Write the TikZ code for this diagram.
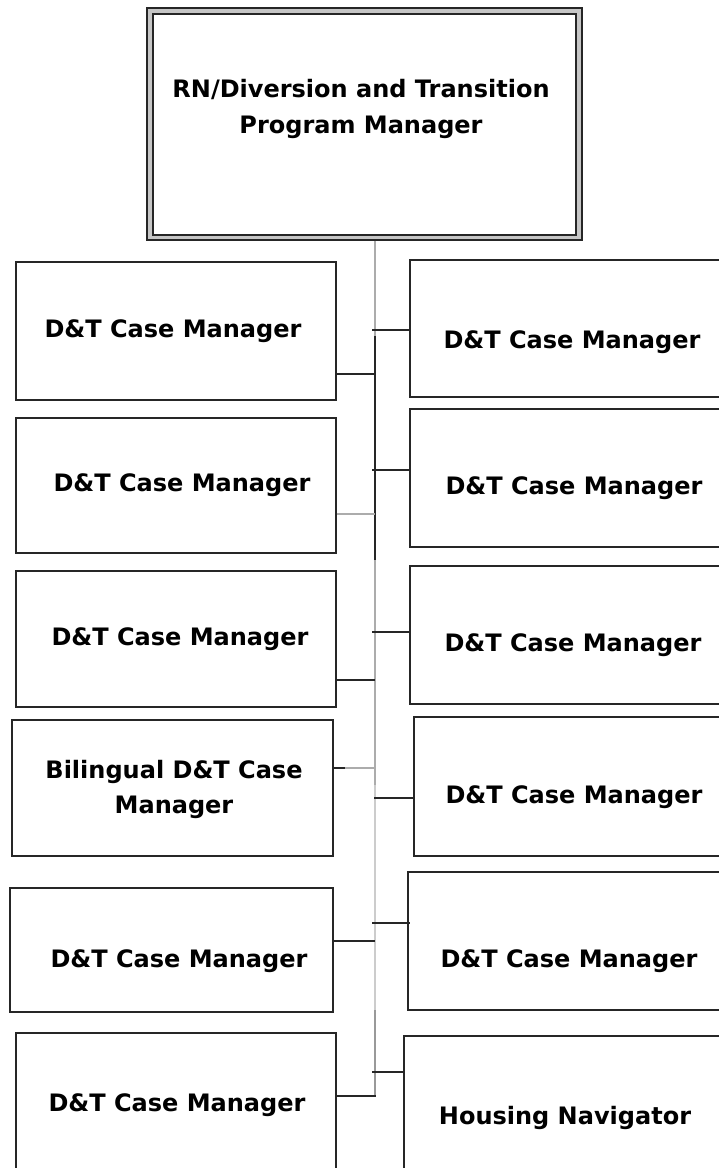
\documentclass[tikz,border=0pt]{standalone}
\usepackage{fontspec}
\setmainfont{DejaVu Sans}
\begin{document}
\begin{tikzpicture}[x=1pt, y=-1pt,
  box/.style={draw=black!85, line width=1.8pt, fill=white, inner sep=0pt},
  roletext/.style={font=\fontsize{24}{36}\selectfont\bfseries, anchor=base, inner sep=0pt, text=black},
  wire/.style={draw=black!85, line width=1.8pt},
  softwire/.style={draw=gray!65, line width=1.8pt},
  paleswire/.style={draw=gray!40, line width=2.4pt}]
\useasboundingbox (0,0) rectangle (719,1168);
\clip (0,0) rectangle (719,1168);

% a box given by its left, top, right and bottom edges
\newcommand\chartbox[5]{%
  \node[box, minimum width={(#4-#2)*1pt}, minimum height={(#5-#3)*1pt}]
    (#1) at ({(#2+#4)/2},{(#3+#5)/2}) {};}

% head of the program: double frame
\node[box, fill=gray!45, minimum width=435pt, minimum height=232pt] (top) at (364.5,124) {};
\node[box, minimum width=423pt, minimum height=221pt] (topin) at (364.5,124.5) {};
\node[roletext] (ttop1) at (361,97) {RN/Diversion and Transition};
\node[roletext] (ttop2) at (361,133) {Program Manager};

% left column
\chartbox{L1}{16}{262}{336}{400}
\chartbox{L2}{16}{418}{336}{553}
\chartbox{L3}{16}{571}{336}{707}
\chartbox{L4}{12}{720}{333}{856}
\chartbox{L5}{10}{888}{333}{1012}
\chartbox{L6}{16}{1033}{336}{1200}
% right column
\chartbox{R1}{410}{260}{745}{397}
\chartbox{R2}{410}{409}{745}{547}
\chartbox{R3}{410}{566}{745}{704}
\chartbox{R4}{414}{717}{745}{856}
\chartbox{R5}{408}{872}{745}{1010}
\chartbox{R6}{404}{1036}{745}{1200}

% role titles
\node[roletext] (tL1) at (173,337) {D\&T Case Manager};
\node[roletext] (tL2) at (182,491) {D\&T Case Manager};
\node[roletext] (tL3) at (180,645) {D\&T Case Manager};
\node[roletext] (tL4a) at (174,778) {Bilingual D\&T Case};
\node[roletext] (tL4b) at (174,813) {Manager};
\node[roletext] (tL5) at (179,967) {D\&T Case Manager};
\node[roletext] (tL6) at (177,1111) {D\&T Case Manager};
\node[roletext] (tR1) at (572,348) {D\&T Case Manager};
\node[roletext] (tR2) at (574,494) {D\&T Case Manager};
\node[roletext] (tR3) at (573,651) {D\&T Case Manager};
\node[roletext] (tR4) at (574,803) {D\&T Case Manager};
\node[roletext] (tR5) at (569,967) {D\&T Case Manager};
\node[roletext] (tR6) at (565,1124) {Housing Navigator};

% spine break points
\coordinate (c1) at (375,336);
\coordinate (c2) at (375,560);
\coordinate (c3) at (375,785);
\coordinate (c4) at (375,1010);
\coordinate (c5) at (375,1096);

\draw[softwire] (top.south -| c1) -- (c1);
\draw[wire] (c1) -- (c2);
\draw[softwire] (c2) -- (c3);
\draw[paleswire] (c3) -- (c4);
\draw[draw=gray!80, line width=1.8pt] (c4) -- (c5);

% taps on the spine, left side
\coordinate (a1) at (375,374);
\coordinate (a2) at (375,514);
\coordinate (a3) at (375,680);
\coordinate (a4) at (375,768);
\coordinate (a4m) at (345,768);
\coordinate (a5) at (375,941);
\draw[wire] (L1.east |- a1) -- (a1);
\draw[softwire] (L2.east |- a2) -- (a2);
\draw[wire] (L3.east |- a3) -- (a3);
\draw[wire] (L4.east |- a4m) -- (a4m);
\draw[softwire] (a4m) -- (a4);
\draw[wire] (L5.east |- a5) -- (a5);
\draw[wire] (L6.east |- c5) -- ([xshift=0.9pt]c5);

% taps on the spine, right side
\coordinate (b1) at (372,330);
\coordinate (b2) at (372,470);
\coordinate (b3) at (372,632);
\coordinate (b4) at (374,798);
\coordinate (b5) at (372,923);
\coordinate (b6) at (372,1072);
\draw[wire] (b1) -- (R1.west |- b1);
\draw[wire] (b2) -- (R2.west |- b2);
\draw[wire] (b3) -- (R3.west |- b3);
\draw[wire] (b4) -- (R4.west |- b4);
\draw[wire] (b5) -- ([xshift=3pt]R5.west |- b5);
\draw[wire] (b6) -- ([xshift=2pt]R6.west |- b6);
\end{tikzpicture}
\end{document}
